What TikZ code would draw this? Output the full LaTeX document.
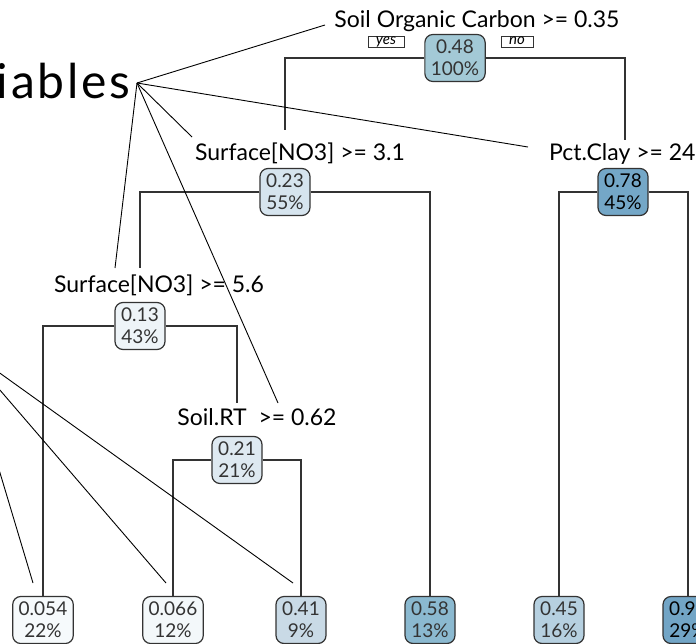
\documentclass[tikz,border=0pt]{standalone}
\usepackage{fontspec}
\setmainfont{Lato}
\usetikzlibrary{calc}
\definecolor{c48}{RGB}{163,201,214}
\definecolor{c23}{RGB}{214,228,238}
\definecolor{c78}{RGB}{116,167,199}
\definecolor{c13}{RGB}{238,244,248}
\definecolor{c21}{RGB}{222,233,241}
\definecolor{c054}{RGB}{246,250,252}
\definecolor{c066}{RGB}{243,248,250}
\definecolor{c41}{RGB}{201,218,230}
\definecolor{c58}{RGB}{139,185,208}
\definecolor{c45}{RGB}{182,208,224}
\definecolor{c97}{RGB}{114,165,198}
\definecolor{ink}{RGB}{51,51,51}

\begin{document}
\begin{tikzpicture}[x=1pt,y=-1pt,
  box/.style={draw=ink,line width=1.2pt,rounded corners=8pt,align=center,
    minimum width=50pt,minimum height=47pt,inner xsep=6pt,inner ysep=0pt,
    text=ink,font=\fontsize{19}{22}\selectfont},
  split/.style={inner sep=0pt,anchor=base,font=\fontsize{23}{26}\selectfont},
  tag/.style={draw=ink,line width=0.7pt,inner xsep=8pt,inner ysep=0.5pt,
    text height=8pt,text depth=2.5pt,font=\itshape\fontsize{15}{15}\selectfont},
  edge/.style={draw=ink,line width=1.4pt},
  hubline/.style={draw=black,line width=0.9pt}]
  \useasboundingbox (0,0) rectangle (696,643);
  \clip (0,0) rectangle (696,643);
  % variables label and the two hubs
  \path (131,98) node[anchor=base east,inner sep=0pt,
      font=\fontsize{48}{52}\selectfont\addfontfeatures{LetterSpace=6}] (vars) {Variables}
    (137,83) coordinate (hub) (-38,346) coordinate (hubb);
  % split labels
  \path (477,27) node[split] (lroot) {Soil Organic Carbon >= 0.35}
    (300,160) node[split] (lno3a) {Surface[NO3] >= 3.1}
    (549,160) node[split,anchor=base west] (lclay) {Pct.Clay >= 24}
    (159,292) node[split] (lno3b) {Surface[NO3] >= 5.6}
    (257,425) node[split] (lsoil) {Soil.RT\ \ >= 0.62};
  % yes / no
  \path (386,42) node[tag] (yes) {yes} (517,42) node[tag] (no) {no};
  % inner nodes
  \path (455,58) node[box,fill=c48] (n1) {0.48\\100\%}
    (285,192) node[box,fill=c23] (n2) {0.23\\55\%}
    (623,192) node[box,fill=c78,text=black] (n3) {0.78\\45\%}
    (140,326) node[box,fill=c13] (n4) {0.13\\43\%}
    (237,460) node[box,fill=c21] (n5) {0.21\\21\%};
  % leaves
  \path (43,620) node[box,fill=c054] (leaf1) {0.054\\22\%}
    (173,620) node[box,fill=c066] (leaf2) {0.066\\12\%}
    (301,620) node[box,fill=c41] (leaf3) {0.41\\9\%}
    (430,620) node[box,fill=c58] (leaf4) {0.58\\13\%}
    (559,620) node[box,fill=c45] (leaf5) {0.45\\16\%}
    (688,620) node[box,fill=c97,text=black] (leaf6) {0.97\\29\%};
  % ends of branches above split labels
  \path (285,130) coordinate (t2) (625,140) coordinate (t3)
    (140,268) coordinate (t4) (237,403) coordinate (t5);
  \draw[edge] (n1) -| (t2) (n1) -| (t3);
  \draw[edge] (n2) -| (t4) (n2) -| (leaf4);
  \draw[edge] (n3) -| (leaf5) (n3) -| (leaf6);
  \draw[edge] (n4) -| (leaf1) (n4) -| (t5);
  \draw[edge] (n5) -| (leaf2) (n5) -| (leaf3);
  % pointers from the variables label
  \path (325,25) coordinate (h1) (528,147) coordinate (h2) (192,137) coordinate (h3)
    (115,268) coordinate (h4) (278,403) coordinate (h5)
    (33,583) coordinate (g1) (166,583) coordinate (g2) (293,583) coordinate (g3);
  \foreach \e in {h1,h2,h3,h4,h5} \draw[hubline] (hub) -- (\e);
  \foreach \e in {g1,g2,g3} \draw[hubline] (hubb) -- (\e);
\end{tikzpicture}
\end{document}
